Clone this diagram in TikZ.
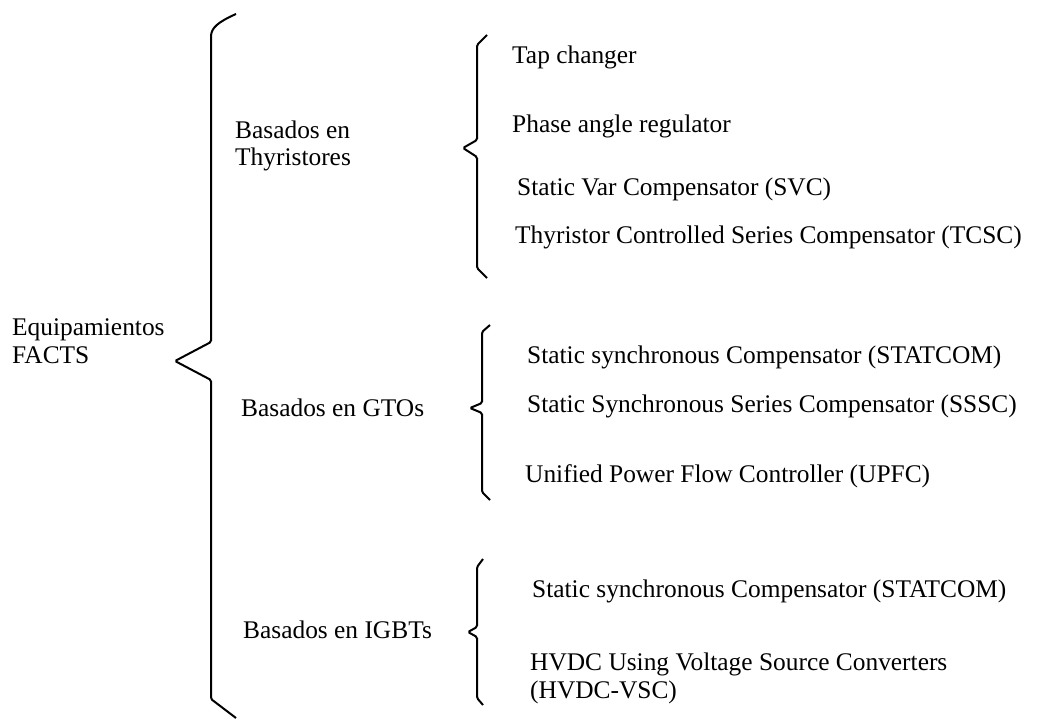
\documentclass[tikz,border=0pt]{standalone}
\usepackage{fontspec}
\setmainfont{Liberation Serif}
\tikzset{
  lbl/.style={anchor=base west, inner sep=0pt, font=\fontsize{25.4}{29}\selectfont},
  brace/.style={draw=black, line width=2pt, rounded corners=1.5pt, line join=miter}
}
\begin{document}
\begin{tikzpicture}[x=1pt,y=-1pt]
\useasboundingbox (0,0) rectangle (1049,718);
% big brace
\draw[brace] (236,14) .. controls (218,22) and (211,28) .. (211,38) -- (211,342) -- (175,361) -- (211,380) -- (211,699) -- (236,718);
% thyristor brace
\draw[brace] (487,35) -- (477,45) -- (477,140) -- (463,148) -- (477,157) -- (477,268) -- (487,278);
% GTO brace
\draw[brace] (490,325) -- (482,332) -- (482,403) -- (470,408) -- (482,413) -- (482,492) -- (490,500);
% IGBT brace
\draw[brace] (483,559) -- (477,567) -- (477,627) -- (468,632) -- (477,637) -- (477,698) -- (483,705);

\node[lbl] (eq1) at (12,335) {Equipamientos};
\node[lbl] (eq2) at (12,363) {FACTS};

\node[lbl] (th1) at (235,138) {Basados en};
\node[lbl] (th2) at (235,165) {Thyristores};
\node[lbl] (gto) at (241,416) {Basados en GTOs};
\node[lbl] (igbt) at (243,638) {Basados en IGBTs};

\node[lbl] (t1) at (512,63) {Tap changer};
\node[lbl] (t2) at (512,132) {Phase angle regulator};
\node[lbl] (t3) at (517,195) {Static Var Compensator (SVC)};
\node[lbl] (t4) at (515,243) {Thyristor Controlled Series Compensator (TCSC)};

\node[lbl] (g1) at (527,363) {Static synchronous Compensator (STATCOM)};
\node[lbl] (g2) at (527,412) {Static Synchronous Series Compensator (SSSC)};
\node[lbl] (g3) at (525,482) {Unified Power Flow Controller (UPFC)};

\node[lbl] (i1) at (532,597) {Static synchronous Compensator (STATCOM)};
\node[lbl] (i2) at (530,670) {HVDC Using Voltage Source Converters};
\node[lbl] (i3) at (530,698) {(HVDC-VSC)};
\end{tikzpicture}
\end{document}
